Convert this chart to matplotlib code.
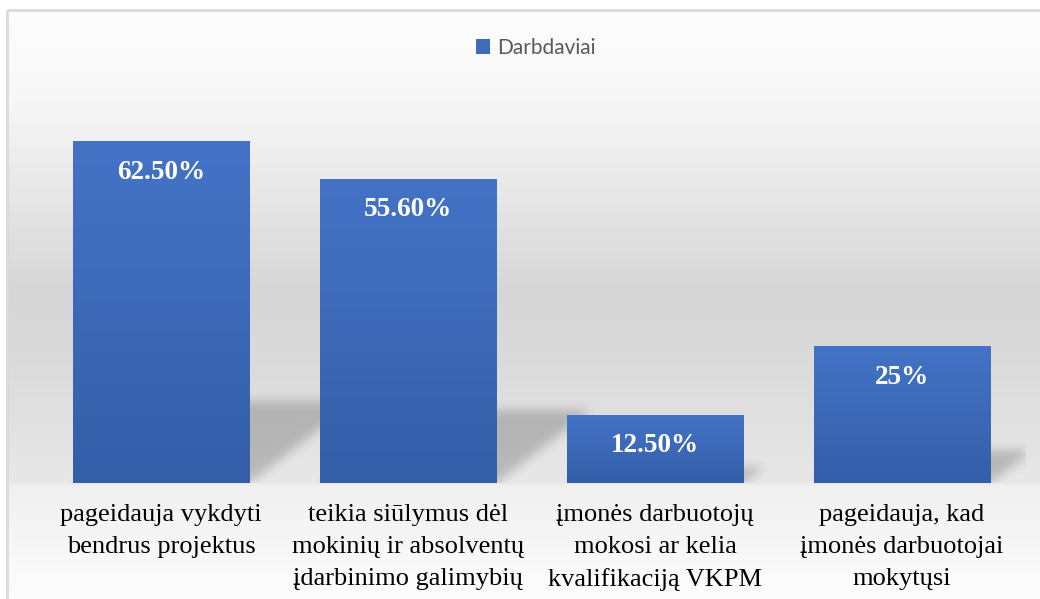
import numpy as np
import matplotlib
matplotlib.use("Agg")
import matplotlib.pyplot as plt
from matplotlib.patches import Patch, Rectangle

categories = [
    "pageidauja vykdyti\nbendrus projektus",
    "teikia siūlymus dėl\nmokinių ir absolventų\nįdarbinimo galimybių",
    "įmonės darbuotojų\nmokosi ar kelia\nkvalifikaciją VKPM",
    "pageidauja, kad\nįmonės darbuotojai\nmokytųsi",
]
values = [62.5, 55.6, 12.5, 25.0]
value_labels = ["62.50%", "55.60%", "12.50%", "25%"]
series_name = "Darbdaviai"

W, H = 1040, 599
fig = plt.figure(figsize=(W / 100, H / 100), dpi=100)

# background: white outside the chart border, vertical grey gradient inside
bg_ax = fig.add_axes([0, 0, 1, 1], zorder=-5)
bg_ax.set_axis_off()
ys = np.arange(H)
stops_y = [0, 10, 100, 200, 290, 380, 482, 486, 599]
stops_v = [255, 253, 247, 230, 214, 220, 232, 240, 253]
col = np.interp(ys, stops_y, stops_v) / 255.0
bg = np.repeat(col[:, None], W, axis=1)
bg[:10, :] = 1.0
bg[:, :7] = 1.0
bg_ax.imshow(np.dstack([bg, bg, bg]), extent=[0, W, H, 0], aspect="auto",
             interpolation="bilinear")
bg_ax.set_xlim(0, W)
bg_ax.set_ylim(H, 0)
bg_ax.add_patch(Rectangle((7, 10), W + 20, H + 20, fill=False,
                          edgecolor="#d9d9d9", linewidth=2))

# main axes
ax_left, ax_right = 37.5, 1025.5
ax_top, ax_bottom = 100, 483
ax = fig.add_axes([ax_left / W, 1 - ax_bottom / H,
                   (ax_right - ax_left) / W, (ax_bottom - ax_top) / H])
ax.patch.set_visible(False)
ymax = 70
ax.set_xlim(-0.5, len(values) - 0.5)
ax.set_ylim(0, ymax)
x = np.arange(len(values))
bar_w = 0.713

# soft perspective shadows behind bars
pw = int(ax_right - ax_left)
ph = int(ax_bottom - ax_top)
px_per_x = pw / len(values)
px_per_y = ph / ymax
gx, gy = np.meshgrid(np.arange(pw) + 0.5, np.arange(ph) + 0.5)
mask = np.zeros((ph, pw))
for i, v in enumerate(values):
    left = (i - bar_w / 2 + 0.5) * px_per_x
    right = (i + bar_w / 2 + 0.5) * px_per_x
    sh = 0.24 * v * px_per_y
    k = 1.3
    inside = (gy <= sh) & (gx >= left + gy * k) & (gx <= right + gy * k)
    mask[inside] = 1.0


def blur(a, sigma):
    r = int(3 * sigma)
    kern = np.exp(-0.5 * (np.arange(-r, r + 1) / sigma) ** 2)
    kern /= kern.sum()
    a = np.apply_along_axis(lambda m: np.convolve(m, kern, mode="same"), 0, a)
    a = np.apply_along_axis(lambda m: np.convolve(m, kern, mode="same"), 1, a)
    return a


mask = blur(mask, 5)
shadow = np.zeros((ph, pw, 4))
shadow[..., 3] = 0.2 * mask
ax.imshow(shadow, extent=[-0.5, len(values) - 0.5, 0, ymax], origin="lower",
          aspect="auto", zorder=1, interpolation="bilinear")

# bars with vertical gradient
bars = ax.bar(x, values, width=bar_w, color="#3d69b8", zorder=2)
top_c = np.array([68, 115, 198]) / 255
bot_c = np.array([52, 94, 168]) / 255
t = np.linspace(0, 1, 256)[:, None]
grad = (top_c * (1 - t) + bot_c * t)[:, None, :]
for b in bars:
    x0, y0 = b.get_x(), b.get_y()
    im = ax.imshow(grad, extent=[x0, x0 + b.get_width(), y0, y0 + b.get_height()],
                   aspect="auto", zorder=3, origin="upper")
    im.set_clip_path(b)

for xi, v, lab in zip(x, values, value_labels):
    ax.annotate(lab, (xi, v), xytext=(0, -31), textcoords="offset pixels",
                ha="center", va="center", color="white", fontsize=19.5,
                fontweight="bold", family="Liberation Serif", zorder=4)

ax.set_xticks(x)
ax.set_xticklabels(categories, family="Liberation Serif", fontsize=19,
                   color="black", linespacing=1.58)
ax.tick_params(axis="x", length=0, pad=15)
ax.set_yticks([])
for s in ["top", "right", "left", "bottom"]:
    ax.spines[s].set_visible(False)

fig.legend(handles=[Patch(facecolor="#3f6bbd", edgecolor="none", label=series_name)],
           loc="center", bbox_to_anchor=(535.5 / W, 1 - 48 / H), frameon=False,
           prop={"family": "Lato", "size": 15}, labelcolor="#595959",
           handlelength=0.7, handleheight=0.7, handletextpad=0.3)

fig.savefig("out.png", dpi=100)
